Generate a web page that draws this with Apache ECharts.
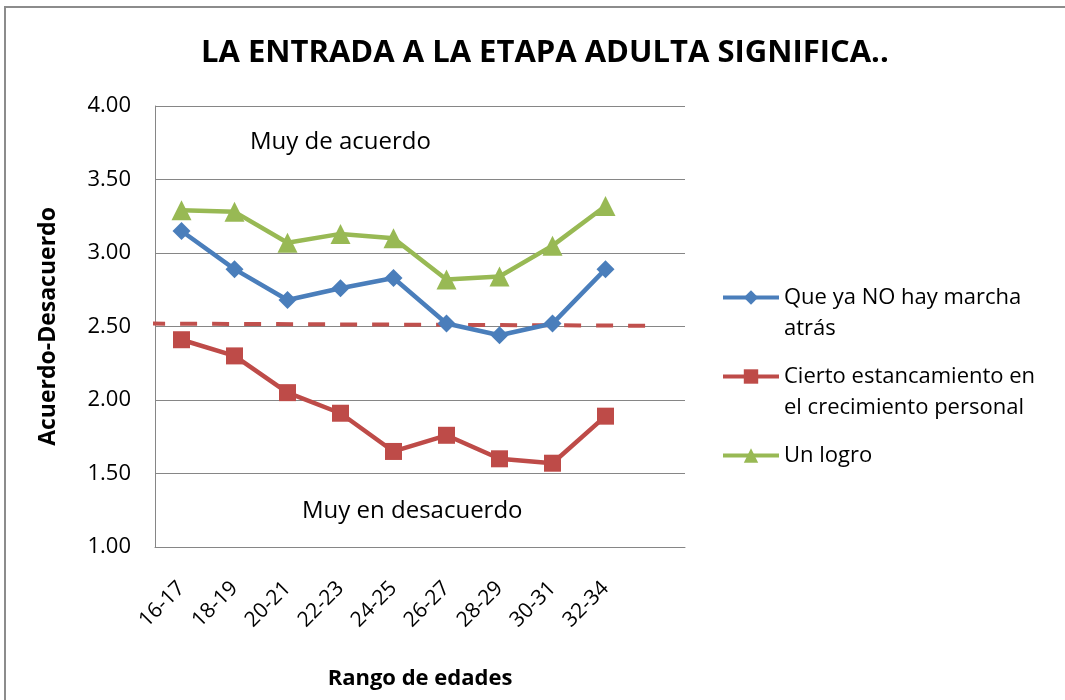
<!DOCTYPE html>
<html>
<head>
<meta charset="utf-8">
<script src="https://cdn.jsdelivr.net/npm/echarts@6/dist/echarts.min.js"></script>
<style>
  html, body { margin: 0; padding: 0; background: #fff; }
  #chart { width: 1065px; height: 700px; }
</style>
</head>
<body>
<div id="chart"></div>
<script>
// rangos de edad (la última categoría queda vacía, como en el original)
const rangos = ["16-17", "18-19", "20-21", "22-23", "24-25", "26-27", "28-29", "30-31", "32-34", ""];

const marchaAtras = [3.15, 2.89, 2.68, 2.76, 2.83, 2.52, 2.44, 2.52, 2.89];
const estancamiento = [2.41, 2.30, 2.05, 1.91, 1.65, 1.76, 1.60, 1.57, 1.89];
const logro = [3.29, 3.28, 3.07, 3.13, 3.10, 2.82, 2.84, 3.05, 3.32];

// línea de corte (punto medio de la escala), extremos en [posición, valor]
const corte = [[-0.13, 2.52], [9.5, 2.505]];

// texto de la leyenda partido en dos líneas; la línea vacía de arriba
// deja el icono a la altura de la primera línea
const nombres = {
  "Que ya NO hay marcha atrás": "\nQue ya NO hay marcha\natrás",
  "Cierto estancamiento en el crecimiento personal": "\nCierto estancamiento en\nel crecimiento personal",
  "Un logro": "\nUn logro\n",
};

const fuente = "'Open Sans', 'Liberation Sans', sans-serif";

const chart = echarts.init(document.getElementById("chart"));

const option = {
  backgroundColor: "#fff",
  animation: false,
  title: {
    text: "LA ENTRADA A LA ETAPA ADULTA SIGNIFICA..",
    left: 196,
    top: 33,
    textStyle: { fontFamily: fuente, fontSize: 31, fontWeight: "bold", color: "#000" },
  },
  graphic: [
    {
      type: "rect",
      shape: { x: 5, y: 7, width: 1080, height: 720 },
      style: { fill: "none", stroke: "#8c8c8c", lineWidth: 2 },
      silent: true,
    },
    {
      type: "text",
      left: 250, top: 130,
      style: { text: "Muy de acuerdo", font: "24px " + fuente, fill: "#000" },
    },
    {
      type: "text",
      left: 302, top: 499,
      style: { text: "Muy en desacuerdo", font: "24px " + fuente, fill: "#000" },
    },
  ],
  grid: { left: 155, right: 380, top: 106, bottom: 153, containLabel: false },
  legend: {
    orient: "vertical",
    left: 716,
    top: 246,
    itemWidth: 56,
    itemHeight: 18,
    itemGap: -14,
    data: Object.keys(nombres),
    formatter: (n) => nombres[n],
    lineStyle: { width: 4 },
    textStyle: { fontFamily: fuente, fontSize: 22, color: "#000", lineHeight: 31 },
  },
  xAxis: [
    {
      type: "category",
      data: rangos,
      boundaryGap: true,
      name: "Rango de edades",
      nameLocation: "middle",
      nameGap: 121,
      nameTextStyle: { fontFamily: fuente, fontSize: 22, fontWeight: "bold", color: "#000" },
      axisLine: { lineStyle: { color: "#868686", width: 1 } },
      axisTick: { show: false },
      axisLabel: { rotate: 45, margin: 38, fontFamily: fuente, fontSize: 21, color: "#000", interval: 0 },
    },
    {
      type: "value",
      min: 0,
      max: 10,
      show: false,
    },
  ],
  yAxis: {
    type: "value",
    min: 1,
    max: 4,
    interval: 0.5,
    name: "Acuerdo-Desacuerdo",
    nameLocation: "middle",
    nameGap: 95,
    nameTextStyle: { fontFamily: fuente, fontSize: 23, fontWeight: "bold", color: "#000" },
    axisLine: { show: true, lineStyle: { color: "#868686", width: 1 } },
    axisTick: { show: false },
    splitLine: { lineStyle: { color: "#868686", width: 1 } },
    axisLabel: {
      margin: 24,
      fontFamily: fuente,
      fontSize: 22,
      color: "#000",
      formatter: (v) => v.toFixed(2),
    },
  },
  series: [
    {
      name: "corte",
      type: "line",
      xAxisIndex: 1,
      data: corte,
      symbol: "none",
      clip: false,
      silent: true,
      lineStyle: { color: "#C0504D", width: 4, type: [17, 15] },
      z: 1,
    },
    {
      name: "Que ya NO hay marcha atrás",
      type: "line",
      data: marchaAtras,
      color: "#4A7EBB",
      symbol: "diamond",
      symbolSize: 18,
      lineStyle: { width: 4.5 },
      z: 3,
    },
    {
      name: "Cierto estancamiento en el crecimiento personal",
      type: "line",
      data: estancamiento,
      color: "#BE4B48",
      symbol: "rect",
      symbolSize: 17,
      lineStyle: { width: 4.5 },
      z: 3,
    },
    {
      name: "Un logro",
      type: "line",
      data: logro,
      color: "#98B954",
      symbol: "triangle",
      symbolSize: 20,
      lineStyle: { width: 4.5 },
      z: 3,
    },
  ],
};

chart.setOption(option);
</script>
</body>
</html>
